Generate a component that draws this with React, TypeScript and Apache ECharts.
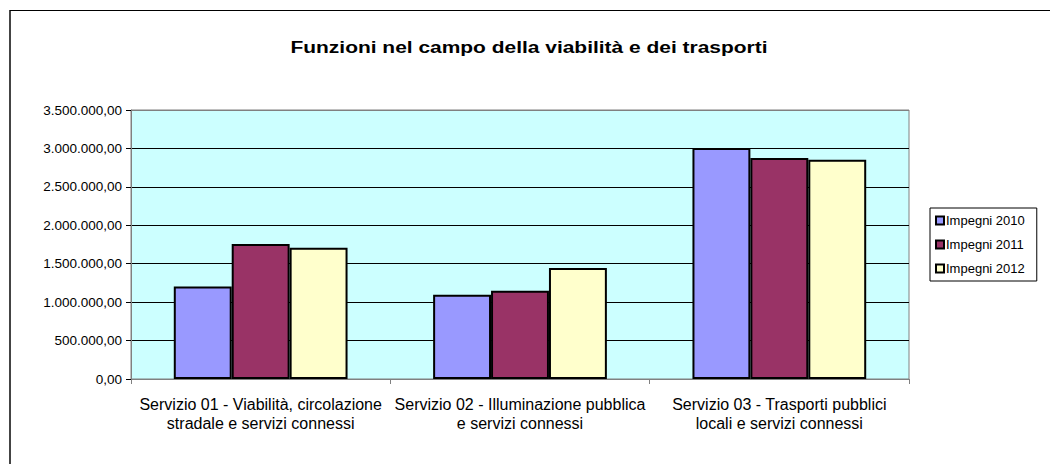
import React, { useEffect, useRef } from "react";
import * as echarts from "echarts";

const title = "Funzioni nel campo della viabilità e dei trasporti";
const categories = [
  "Servizio 01 - Viabilità, circolazione\nstradale e servizi connessi",
  "Servizio 02 - Illuminazione pubblica\ne servizi connessi",
  "Servizio 03 - Trasporti pubblici\nlocali e servizi connessi",
];
const seriesNames = ["Impegni 2010", "Impegni 2011", "Impegni 2012"];
const impegni2010 = [1205000, 1097000, 3006000];
const impegni2011 = [1756000, 1149000, 2875000];
const impegni2012 = [1708000, 1444000, 2853000];
const seriesColors = ["#9999FF", "#993366", "#FFFFCC"];

const FONT = "'Liberation Sans', Arial, sans-serif";

function fmt(v: number): string {
  const s = Math.round(v).toString().replace(/\B(?=(\d{3})+(?!\d))/g, ".");
  return s + ",00";
}

export default function App() {
  const ref = useRef<HTMLDivElement>(null);
  useEffect(() => {
    if (!ref.current) return;
    const chart = echarts.init(ref.current, undefined, { renderer: "svg" });
    const data = [impegni2010, impegni2011, impegni2012];
    chart.setOption({
      animation: false,
      backgroundColor: "#ffffff",
      textStyle: { fontFamily: FONT },
      graphic: [
        {
          type: "rect",
          shape: { x: 9.5, y: 10.5, width: 1100, height: 600 },
          style: { fill: "none", stroke: "#000", lineWidth: 1 },
          silent: true,
        },
        {
          type: "line",
          shape: { x1: 10, y1: 11, x2: 10, y2: 464 },
          style: { stroke: "#444", lineWidth: 2 },
          silent: true,
        },
        {
          type: "text",
          x: 529,
          y: 47,
          scaleX: 1.27,
          style: {
            text: title,
            font: "bold 16.5px 'Liberation Sans', Arial, sans-serif",
            fill: "#000",
            textAlign: "center",
            textVerticalAlign: "middle",
          },
          silent: true,
        },
      ],
      legend: {
        orient: "vertical",
        left: 930,
        top: 208,
        padding: [6, 12, 6, 5],
        itemGap: 11,
        itemWidth: 8,
        itemHeight: 8,
        borderColor: "#000",
        borderWidth: 1,
        backgroundColor: "#fff",
        icon: "rect",
        textStyle: { fontSize: 13, color: "#000", fontFamily: FONT, padding: [0, 0, 0, -3] },
        data: seriesNames,
      },
      grid: {
        left: 131,
        right: 141,
        top: 110,
        bottom: 85,
        show: true,
        backgroundColor: "#CCFFFF",
        borderColor: "#808080",
        borderWidth: 1,
        containLabel: false,
      },
      xAxis: {
        type: "category",
        data: categories,
        axisLine: { show: true, lineStyle: { color: "#808080", width: 1 } },
        axisTick: { show: true, length: 5, lineStyle: { color: "#808080" } },
        axisLabel: {
          interval: 0,
          margin: 16,
          fontSize: 16,
          lineHeight: 19,
          color: "#000",
          fontFamily: FONT,
        },
      },
      yAxis: {
        type: "value",
        min: 0,
        max: 3500000,
        interval: 500000,
        axisLine: { show: true, lineStyle: { color: "#808080" } },
        axisTick: { show: true, length: 5, lineStyle: { color: "#000" } },
        axisLabel: {
          formatter: (v: number) => fmt(v),
          fontSize: 13.5,
          color: "#000",
          margin: 9,
          fontFamily: FONT,
        },
        splitLine: {
          show: true,
          lineStyle: {
            color: ["#808080", "#000", "#000", "#000", "#000", "#000", "#000", "#808080"],
            width: 1,
          },
        },
      },
      series: seriesNames.map((name, i) => ({
        name,
        type: "bar",
        data: data[i],
        barGap: "0%",
        barCategoryGap: "33%",
        itemStyle: { color: seriesColors[i], borderColor: "#000", borderWidth: 2 },
      })),
    });
    return () => chart.dispose();
  }, []);
  return (
    <div
      ref={ref}
      style={{ position: "fixed", left: 0, top: 0, width: 1050, height: 464 }}
    />
  );
}
